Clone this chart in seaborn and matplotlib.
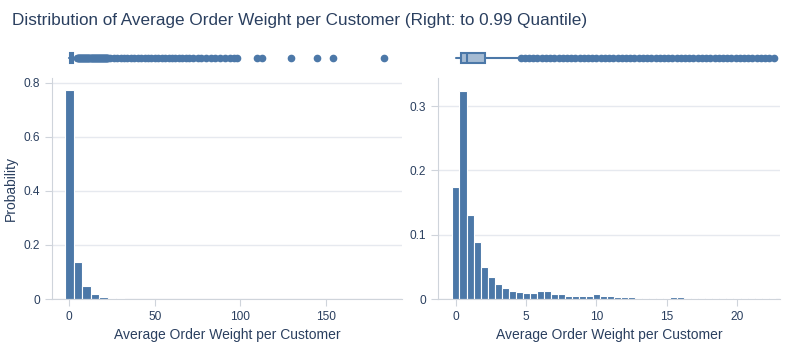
import numpy as np
import pandas as pd
import seaborn as sns
import matplotlib.pyplot as plt

# %% data
left_centers = [0, 5, 10, 15, 20, 25, 30, 35, 40, 45, 50, 55, 60, 65, 70, 75, 80,
                85, 90, 95, 100, 105, 110, 115, 120, 125, 130, 135, 140, 145, 150,
                155, 160, 165, 170, 175, 180, 185]
left_probs = [0.775, 0.138, 0.047, 0.017, 0.0074, 0.004, 0.0025, 0.0015, 0.001,
              0.0008, 0.0006, 0.0005, 0.0004, 0.0003, 0.0003, 0.0002, 0.0002,
              0.0001, 0.0001, 0.0001, 0.0001, 0.0001, 0.0001, 0, 0, 0, 0.0001, 0,
              0, 0.0001, 0, 0.0001, 0, 0, 0, 0, 0, 0.0001]

right_centers = [0, 0.5, 1, 1.5, 2, 2.5, 3, 3.5, 4, 4.5, 5, 5.5, 6, 6.5, 7, 7.5,
                 8, 8.5, 9, 9.5, 10, 10.5, 11, 11.5, 12, 12.5, 13, 13.5, 14, 14.5,
                 15, 15.5, 16, 16.5, 17, 17.5, 18, 18.5, 19, 19.5, 20, 20.5, 21,
                 21.5, 22, 22.5]
right_probs = [0.174, 0.324, 0.130, 0.088, 0.049, 0.034, 0.023, 0.017, 0.012,
               0.011, 0.009, 0.010, 0.012, 0.012, 0.008, 0.008, 0.005, 0.005,
               0.005, 0.004, 0.007, 0.004, 0.004, 0.003, 0.003, 0.003, 0.002,
               0.002, 0.002, 0.002, 0.002, 0.003, 0.003, 0.002, 0.002, 0.002,
               0.0015, 0.0015, 0.0015, 0.0015, 0.0015, 0.0015, 0.0015, 0.0015,
               0.0015, 0.0015]

# box summary (same for both panels, right is cut at the 0.99 quantile)
box_q1, box_med, box_q3 = 0.33, 0.8, 2.1
box_lo, box_hi = 0.03, 4.4
quantile_99 = 22.6
outliers = [4.6, 4.9, 5.2, 5.5, 5.8, 6.1, 6.4, 6.7, 7.0, 7.3, 7.6, 7.9, 8.2, 8.5,
            8.8, 9.1, 9.4, 9.7, 10.0, 10.3, 10.6, 10.9, 11.2, 11.5, 11.8, 12.1,
            12.4, 12.7, 13.0, 13.3, 13.6, 13.9, 14.2, 14.5, 14.8, 15.1, 15.4,
            15.7, 16.0, 16.3, 16.6, 16.9, 17.2, 17.5, 17.8, 18.1, 18.4, 18.7,
            19.0, 19.3, 19.6, 19.9, 20.2, 20.5, 20.8, 21.1, 21.4, 21.7, 22.0,
            22.3, 22.6, 24, 26, 28, 30, 32, 34, 36, 38, 40, 42, 44, 46, 48, 50,
            52, 54, 56, 58, 60, 62, 64, 66, 68, 70, 72, 75, 77, 80, 83, 85, 88,
            91, 94, 96, 98, 109.5, 112.4, 129.4, 144.6, 154.3, 184.1]

left_xticks = [0, 50, 100, 150]
right_xticks = [0, 5, 10, 15, 20]
left_yticks = [0, 0.2, 0.4, 0.6, 0.8]
right_yticks = [0, 0.1, 0.2, 0.3]

# %% style
sns.set_style("white")
plt.rcParams['font.family'] = ['Liberation Sans', 'DejaVu Sans']
txt = "#2a3f5f"
blue = "#4C78A8"
grid = "#e6e9ef"
line = "#cfd4db"

W, H = 800, 350
fig = plt.figure(figsize=(8, 3.5), dpi=100)


def px_axes(x0, y0, x1, y1):
    return fig.add_axes([x0 / W, 1 - y1 / H, (x1 - x0) / W, (y1 - y0) / H])


def hist_panel(ax, centers, probs, width, xlim, ylim, xticks, yticks):
    df = pd.DataFrame({"x": centers, "p": probs})
    edges = [c - width / 2 for c in centers] + [centers[-1] + width / 2]
    sns.histplot(data=df, x="x", weights="p", bins=edges, ax=ax, color=blue,
                 alpha=1, edgecolor="white", linewidth=0.8)
    ax.set_xlim(xlim)
    ax.set_ylim(ylim)
    ax.set_xticks(xticks)
    ax.set_xticklabels([f"{t:g}" for t in xticks])
    ax.set_yticks(yticks)
    ax.set_yticklabels([f"{t:g}" for t in yticks])
    ax.grid(axis="y", color=grid, linewidth=1)
    ax.set_axisbelow(True)
    for s in ["top", "right"]:
        ax.spines[s].set_visible(False)
    for s in ["left", "bottom"]:
        ax.spines[s].set_color(line)
    ax.tick_params(colors=line, labelcolor=txt, labelsize=8.6, length=5,
                   direction="out", left=True, bottom=True)
    ax.set_xlabel("Average Order Weight per Customer", color=txt, fontsize=10)
    ax.set_ylabel("")


def box_panel(ax, fliers, xlim):
    stats = [dict(med=box_med, q1=box_q1, q3=box_q3, whislo=box_lo,
                  whishi=box_hi, fliers=fliers)]
    ax.bxp(stats, orientation="horizontal", widths=0.5, patch_artist=True,
           showcaps=False,
           boxprops=dict(facecolor="#a5bbd3", edgecolor=blue, linewidth=1.5),
           medianprops=dict(color=blue, linewidth=1.5),
           whiskerprops=dict(color=blue, linewidth=1.5),
           flierprops=dict(marker="o", markerfacecolor=blue,
                           markeredgecolor=blue, markersize=4.5))
    ax.set_xlim(xlim)
    ax.set_ylim(0.4, 1.6)
    ax.axis("off")


# left panel
axl = px_axes(52, 78, 402, 299)
hist_panel(axl, left_centers, left_probs, 5, (-10.1, 194.4), (0, 0.818),
           left_xticks, left_yticks)
axl.set_ylabel("Probability", color=txt, fontsize=10)
box_panel(px_axes(52, 46, 402, 70), outliers, (-10.1, 194.4))

# right panel
axr = px_axes(438, 78, 780, 299)
hist_panel(axr, right_centers, right_probs, 0.5, (-1.28, 23.06), (0, 0.3437),
           right_xticks, right_yticks)
box_panel(px_axes(438, 46, 780, 70), [v for v in outliers if v <= quantile_99],
          (-1.28, 23.06))

fig.text(12 / W, 1 - 20 / H,
         "Distribution of Average Order Weight per Customer (Right: to 0.99 Quantile)",
         color=txt, fontsize=12.3, va="center", ha="left")

plt.savefig("out.png", dpi=100)
